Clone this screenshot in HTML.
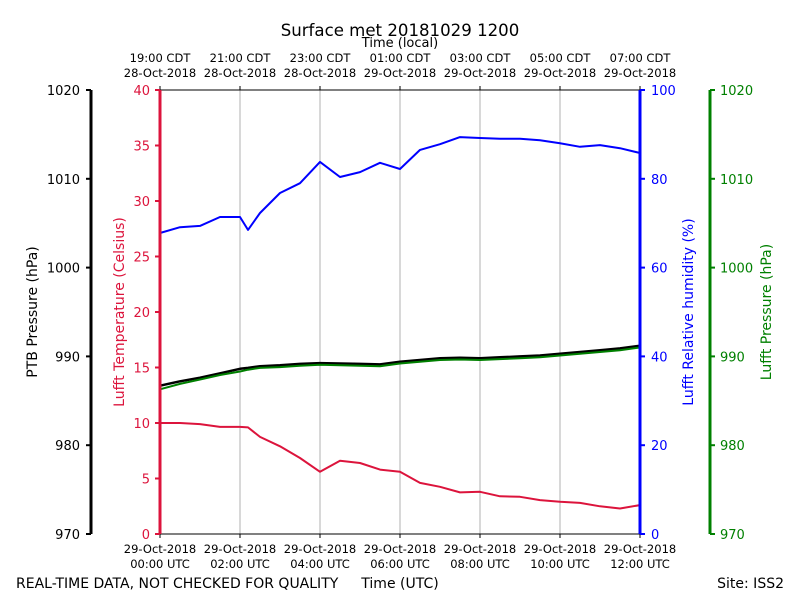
<!DOCTYPE html>
<html><head><meta charset="utf-8"><style>
body{margin:0;background:#fff}
svg text{font-family:"DejaVu Sans","Liberation Sans",sans-serif}
</style></head><body>
<svg id="chart" width="800" height="600" viewBox="0 0 800 600" xmlns="http://www.w3.org/2000/svg">
<text x="400" y="36" font-size="16.6" text-anchor="middle">Surface met 20181029 1200</text>
<text x="400" y="47" font-size="13" text-anchor="middle">Time (local)</text>
<text x="16" y="588" font-size="14">REAL-TIME DATA, NOT CHECKED FOR QUALITY</text>
<text x="400" y="588" font-size="14" text-anchor="middle">Time (UTC)</text>
<text x="784" y="588" font-size="14" text-anchor="end">Site: ISS2</text>
<g id="grid"></g><g id="series"></g><g id="axes"></g>
</svg>
<script>
const hours = [0,0.5,1,1.5,2,2.2,2.5,3,3.5,4,4.5,5,5.5,6,6.5,7,7.5,8,8.5,9,9.5,10,10.5,11,11.5,12];
const rhValues = [67.8,69.1,69.4,71.4,71.4,68.5,72.3,76.8,79,83.8,80.4,81.5,83.6,82.2,86.5,87.8,89.4,89.2,89,89,88.7,88,87.2,87.6,86.9,85.8];
const tempValues = [10.0,10.0,9.9,9.65,9.65,9.6,8.75,7.9,6.85,5.6,6.6,6.4,5.8,5.6,4.6,4.25,3.75,3.8,3.4,3.35,3.05,2.9,2.8,2.5,2.3,2.6];
const ptbValues = [986.7,987.2,987.6,988.1,988.6,988.7,988.9,989.0,989.15,989.25,989.2,989.15,989.1,989.4,989.6,989.8,989.85,989.8,989.9,990.0,990.1,990.3,990.5,990.7,990.9,991.2];
const lufftPValues = [986.3,986.9,987.4,987.9,988.3,988.5,988.7,988.8,988.95,989.05,989.0,988.95,988.9,989.2,989.4,989.6,989.65,989.6,989.7,989.8,989.9,990.1,990.3,990.5,990.7,991.0];
const bottomLabels = ["00:00 UTC","02:00 UTC","04:00 UTC","06:00 UTC","08:00 UTC","10:00 UTC","12:00 UTC"];
const bottomDates = ["29-Oct-2018","29-Oct-2018","29-Oct-2018","29-Oct-2018","29-Oct-2018","29-Oct-2018","29-Oct-2018"];
const topLabels = ["19:00 CDT","21:00 CDT","23:00 CDT","01:00 CDT","03:00 CDT","05:00 CDT","07:00 CDT"];
const topDates = ["28-Oct-2018","28-Oct-2018","28-Oct-2018","29-Oct-2018","29-Oct-2018","29-Oct-2018","29-Oct-2018"];
const tempTicks = [0,5,10,15,20,25,30,35,40];
const rhTicks = [0,20,40,60,80,100];
const pTicks = [970,980,990,1000,1010,1020];

const X0=160,X1=640,Y0=534,Y1=90;
const xS=h=>X0+h/12*(X1-X0);
const yT=v=>Y0-v/40*(Y0-Y1);
const yR=v=>Y0-v/100*(Y0-Y1);
const yP=v=>Y0-(v-970)/50*(Y0-Y1);
const NS="http://www.w3.org/2000/svg";
function mk(tag,attrs,parent,txt){const e=document.createElementNS(NS,tag);for(const k in attrs)e.setAttribute(k,attrs[k]);if(txt!==undefined)e.textContent=txt;document.getElementById(parent).appendChild(e);return e;}
for(let i=1;i<6;i++){const e=mk('line',{x1:xS(i*2),x2:xS(i*2),y1:Y1,y2:Y0,stroke:'#b0b0b0','stroke-width':1},'grid');

}
function line(vals,fy,color,name,w){const d=hours.map((h,i)=>(i?'L':'M')+xS(h).toFixed(1)+','+fy(vals[i]).toFixed(1)).join('');
const e=mk('path',{d:d,fill:'none',stroke:color,'stroke-width':w,'stroke-linejoin':'round'},'series');

}
line(rhValues,yR,'#0000ff','rh-line',2);
line(tempValues,yT,'#dc143c','temperature-line',2);
line(ptbValues,yP,'#000000','ptb-pressure-line',2.5);
line(lufftPValues,yP,'#008000','lufft-pressure-line',2);
const sp=[[X0,Y1,X1,Y1,'#000',1,'top-spine'],[X0,Y0,X1,Y0,'#000',1,'bottom-spine'],[91,Y1,91,Y0,'#000',3,'ptb-axis-spine'],[X0,Y1,X0,Y0,'#dc143c',3,'temperature-axis-spine'],[X1,Y1,X1,Y0,'#0000ff',3,'rh-axis-spine'],[710,Y1,710,Y0,'#008000',3,'lufft-pressure-axis-spine']];
sp.forEach(s=>{const e=mk('line',{x1:s[0],y1:s[1],x2:s[2],y2:s[3],stroke:s[4],'stroke-width':s[5]},'axes');

});
bottomLabels.forEach((l,i)=>{const x=xS(i*2);
mk('line',{x1:x,x2:x,y1:Y0,y2:Y0+4,stroke:'#000'},'axes');
mk('line',{x1:x,x2:x,y1:Y1,y2:Y1-4,stroke:'#000'},'axes');
const a=mk('text',{x:x,y:553,'font-size':11.5,'text-anchor':'middle'},'axes',bottomDates[i]);


const b=mk('text',{x:x,y:568,'font-size':11.5,'text-anchor':'middle'},'axes',l);


const c=mk('text',{x:x,y:62,'font-size':11.5,'text-anchor':'middle'},'axes',topLabels[i]);


const d=mk('text',{x:x,y:77,'font-size':11.5,'text-anchor':'middle'},'axes',topDates[i]);

});
pTicks.forEach(v=>{const y=yP(v);
mk('line',{x1:91,x2:86,y1:y,y2:y,stroke:'#000','stroke-width':2},'axes');
const a=mk('text',{x:80,y:y+5,'font-size':13,'text-anchor':'end'},'axes',v);


mk('line',{x1:710,x2:715,y1:y,y2:y,stroke:'#008000','stroke-width':2},'axes');
const b=mk('text',{x:720,y:y+5,'font-size':13,fill:'#008000'},'axes',v);

});
tempTicks.forEach(v=>{const y=yT(v);
mk('line',{x1:160,x2:155,y1:y,y2:y,stroke:'#dc143c','stroke-width':2},'axes');
const a=mk('text',{x:150,y:y+5,'font-size':13,'text-anchor':'end',fill:'#dc143c'},'axes',v);

});
rhTicks.forEach(v=>{const y=yR(v);
mk('line',{x1:640,x2:645,y1:y,y2:y,stroke:'#0000ff','stroke-width':2},'axes');
const a=mk('text',{x:651,y:y+5,'font-size':13,fill:'#0000ff'},'axes',v);

});
function ttl(x,txt,color,name){const e=mk('text',{x:x,y:312,'font-size':14,'text-anchor':'middle',fill:color,transform:'rotate(-90 '+x+' 312)'},'axes',txt);

}
ttl(37,'PTB Pressure (hPa)','#000','ptb-axis-title');
ttl(124,'Lufft Temperature (Celsius)','#dc143c','temperature-axis-title');
ttl(693,'Lufft Relative humidity (%)','#0000ff','rh-axis-title');
ttl(771,'Lufft Pressure (hPa)','#008000','lufft-pressure-axis-title');
</script>
</body></html>
